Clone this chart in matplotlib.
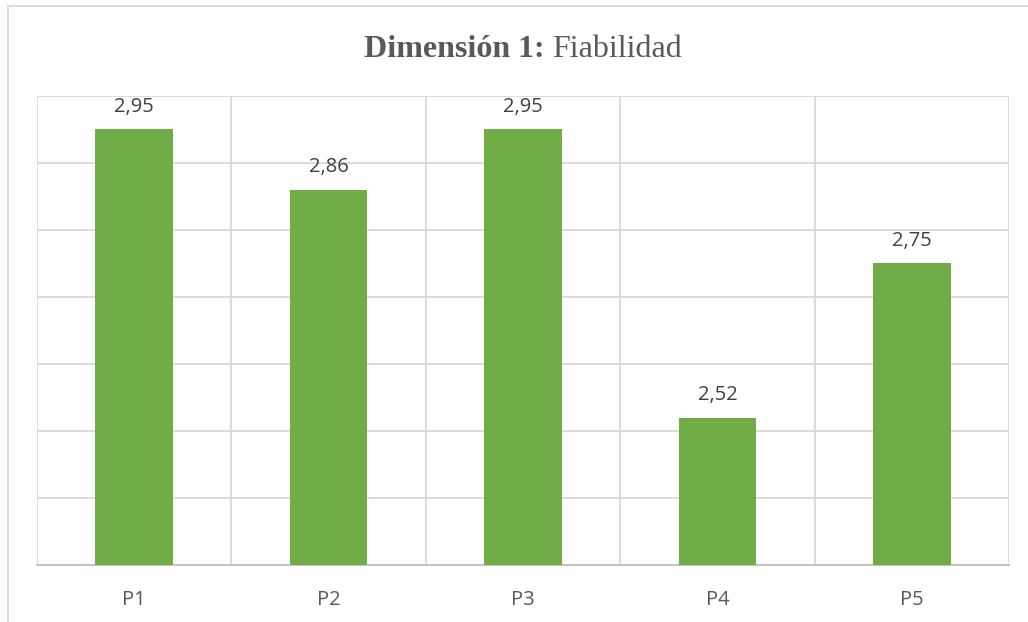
import matplotlib.pyplot as plt
from matplotlib.patches import Rectangle
import numpy as np

# promedio por pregunta, dimensión fiabilidad
categorias = ['P1', 'P2', 'P3', 'P4', 'P5']
valores = [2.95, 2.86, 2.95, 2.52, 2.75]
y_min, y_max, y_step = 2.3, 3.0, 0.1

grid_color = '#d9d9d9'
bar_color = '#70ad47'

fig = plt.figure(figsize=(10.28, 6.22), dpi=100)
ax = fig.add_axes([37 / 1028, 1 - 565 / 622, (1009 - 37) / 1028, (565 - 96) / 622])

# marco exterior del gráfico
fig.patches.append(Rectangle((7.5 / 1028, -0.1), 1.1, 1.1 - 6 / 622, transform=fig.transFigure,
                             fill=False, edgecolor=grid_color, linewidth=1.3))

x = np.arange(len(categorias))
ax.bar(x, valores, width=0.4, color=bar_color, zorder=3)

for xi, v in zip(x, valores):
    ax.annotate(f'{v:.2f}'.replace('.', ','), (xi, v), xytext=(0, 9), textcoords='offset points',
                ha='center', va='bottom', fontsize=14.5, color='#404040', family='Open Sans')

ax.set_xlim(-0.5, len(categorias) - 0.5)
ax.set_ylim(y_min, y_max)
ax.set_yticks(np.arange(y_min, y_max + 0.001, y_step))
ax.set_yticklabels([])
ax.set_xticks(x)
ax.set_xticklabels(categorias, fontsize=14.5, color='#595959', family='Open Sans')
ax.tick_params(axis='both', length=0)
ax.tick_params(axis='x', pad=18)

ax.grid(axis='y', color=grid_color, linewidth=1.3, zorder=0)
for b in np.arange(-0.5, len(categorias), 1.0):
    ax.axvline(b, color=grid_color, linewidth=1.3, zorder=0)

for side in ['top', 'left', 'right']:
    ax.spines[side].set_visible(False)
ax.spines['bottom'].set_color('#bfbfbf')
ax.spines['bottom'].set_linewidth(1.3)

# título: parte en negrita y parte normal
cx = (37 + 1009) / 2 / 1028
t1 = fig.text(cx, 1 - 57 / 622, 'Dimensión 1: ', ha='right', va='baseline', fontsize=23,
              fontweight='bold', color='#595959', family='Liberation Serif')
t2 = fig.text(cx, 1 - 57 / 622, 'Fiabilidad', ha='left', va='baseline', fontsize=23,
              color='#595959', family='Liberation Serif')
fig.canvas.draw()
r = fig.canvas.get_renderer()
w1 = t1.get_window_extent(r).width / 1028
w2 = t2.get_window_extent(r).width / 1028
shift = (w1 - w2) / 2
t1.set_x(cx + shift)
t2.set_x(cx + shift)

fig.savefig('out.png', dpi=100)
